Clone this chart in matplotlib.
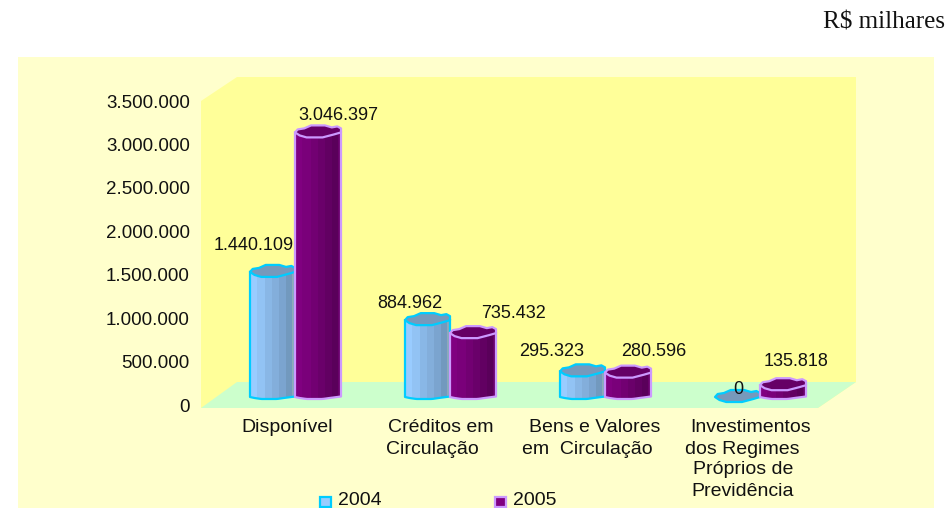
#! /usr/bin/env python
# Faux-3D column chart, two years side by side, on a yellow panel.

import numpy as np
import matplotlib
matplotlib.use('Agg')
import matplotlib.pyplot as plt
from matplotlib.patches import Polygon, Rectangle
from matplotlib.transforms import Affine2D

plt.rcParams['font.family'] = ['Liberation Sans', 'DejaVu Sans']

categories = [['Disponível'],
              ['Créditos em', 'Circulação'],
              ['Bens e Valores', 'em  Circulação'],
              ['Investimentos', 'dos Regimes', 'Próprios de', 'Previdência']]
years = ['2004', '2005']
values_2004 = [1440109, 884962, 295323, 0]
values_2005 = [3046397, 735432, 280596, 135818]
y_ticks = [0, 500000, 1000000, 1500000, 2000000, 2500000, 3000000, 3500000]
y_tick_labels = ['0', '500.000', '1.000.000', '1.500.000', '2.000.000',
                 '2.500.000', '3.000.000', '3.500.000']

W, H = 948, 508
FS = 13         # value labels
FS_TICK = 13.5
FS_CAT = 14

# Colours
panel_c = '#ffffcc'
wall_c = '#ffff99'
floor_c = '#ccffcc'
blue_strips = ['#99ccff', '#92c3f4', '#89b7e6', '#83aedb', '#7ba4cf', '#7299be', '#8fa9b8']
purple_strips = ['#800080', '#7a007a', '#720072', '#6a006a', '#620062', '#5a005a', '#6a006a']
blue_top, blue_edge = '#7799bb', '#00ccff'
purple_top, purple_edge = '#660066', '#cc99ff'

fig = plt.figure(figsize=(W / 100, H / 100), dpi=100)

# transform for the decoration, in image pixels (y pointing down)
px = Affine2D().scale(1, -1).translate(0, H)

fig.patches.append(Rectangle((18, 57), 916, 451, transform=px, facecolor=panel_c,
                             edgecolor='none', zorder=0))

# The axes runs from 201 to 818 px across, and 0 sits at 405 px, 3.5M at 101 px
ax = fig.add_axes([201 / W, 1 - 405 / H, (818 - 201) / W, (405 - 101) / H])
ax.set_zorder(10)
ax.patch.set_visible(False)
for s in ax.spines.values():
    s.set_visible(False)

group_px = 155.0
ax.set_xlim((201 - 295) / group_px, (818 - 295) / group_px)
ax.set_ylim(0, 3500000)
ax.set_xticks([])
ax.set_yticks(y_ticks)
ax.set_yticklabels(y_tick_labels, fontsize=FS_TICK, color='#111111')
ax.tick_params(axis='y', length=0, pad=8)

x_per_px = 1.0 / group_px
y_per_px = 3500000 / 304.0
base = 8 * y_per_px     # columns stand 8 px above the axis zero

# Wall and floor
fig.patches.append(Polygon([(201, 101), (237, 77), (856, 77), (856, 382), (818, 408), (201, 408)],
                           transform=px, facecolor=wall_c, edgecolor='none', zorder=1))
fig.patches.append(Polygon([(237, 382), (856, 382), (818, 408), (201, 408)],
                           transform=px, facecolor=floor_c, edgecolor='none', zorder=1))

# Column outline shapes: fraction of width, pixels relative to the corner
back_u = np.array([0, .06, .2, .35, .65, .8, .92, 1])
back_v = np.array([0, 3, 4, 7, 7, 5, 6, 4])
front_u = np.array([0, .1, .25, .6, .85, 1])
front_v = np.array([0, -3, -5, -5, -2, 0])
bottom_u = np.array([0, .1, .25, .6, .75, 1])
bottom_v = np.array([0, -1, -2, -2, -1, 0.5])
strip_u = np.array([0, .16, .34, .5, .66, .82, .94, 1])


def draw_column(x_left, width, value, strips, top_c, edge_c, z):
    top = value + base
    if value > 0:
        for i in range(len(strips)):
            u = np.linspace(strip_u[i], strip_u[i + 1], 4)
            upper = top + np.interp(u, front_u, front_v) * y_per_px
            lower = base + np.interp(u, bottom_u, bottom_v) * y_per_px
            xs = x_left + u * width
            pts = np.column_stack([np.r_[xs, xs[::-1]], np.r_[upper, lower[::-1]]])
            ax.add_patch(Polygon(pts, facecolor=strips[i], edgecolor='none',
                                 antialiased=False, zorder=z))
        # outline of the body
        u = np.linspace(0, 1, 20)
        xs = x_left + u * width
        lower = base + np.interp(u, bottom_u, bottom_v) * y_per_px
        ax.plot(np.r_[x_left, xs, x_left + width], np.r_[top, lower, top],
                color=edge_c, linewidth=1.6, zorder=z + 0.1, solid_joinstyle='round')
    # the top face
    xs = np.r_[back_u, front_u[::-1]] * width + x_left
    ys = top + np.r_[back_v, front_v[::-1]] * y_per_px
    ax.add_patch(Polygon(np.column_stack([xs, ys]), facecolor=top_c, edgecolor=edge_c,
                         linewidth=1.6, zorder=z + 0.2, joinstyle='round'))


for i in range(len(categories)):
    draw_column(i - 45 * x_per_px, 45 * x_per_px, values_2004[i], blue_strips, blue_top, blue_edge, 3 + i)
    draw_column(i, 46 * x_per_px, values_2005[i], purple_strips, purple_top, purple_edge, 3.5 + i)

# Printed value labels, placed by hand like the source
pos_2004 = [(254, 246), (410, 303), (552, 351), (738, 389)]
pos_2005 = [(338, 115), (513, 313), (654, 351), (796, 362)]
for v, p in zip(values_2004 + values_2005, pos_2004 + pos_2005):
    ax.text(p[0], p[1], f'{v:,}'.replace(',', '.'), transform=px, fontsize=FS, color='#111111',
            ha='center', va='center', zorder=20, clip_on=False)

# Category labels, line by line since the wrapped lines do not share a centre
line_x = [[287], [441, 432], [595, 587], [751, 742, 743, 743]]
line_y = [427, 449, 470, 491]
for lines, xs in zip(categories, line_x):
    for j, line in enumerate(lines):
        ax.text(xs[j], line_y[j], line, transform=px, fontsize=FS_CAT, color='#111111',
                ha='center', va='center', clip_on=False)

# Legend
for year, sx, fc, ec in zip(years, [320, 495], [blue_strips[0], purple_strips[0]], [blue_edge, purple_edge]):
    fig.patches.append(Rectangle((sx, 496.5), 11, 10, transform=px, facecolor=fc,
                                 edgecolor=ec, linewidth=1.6, zorder=5))
    fig.text(sx + 18, 500.5, year, transform=px, fontsize=FS_CAT, color='#111111',
             ha='left', va='center')

fig.text(945, 29, 'R$ milhares', transform=px, fontsize=18, family='Liberation Serif',
         color='#111111', ha='right', va='baseline')

plt.savefig('out.png', dpi=100)
